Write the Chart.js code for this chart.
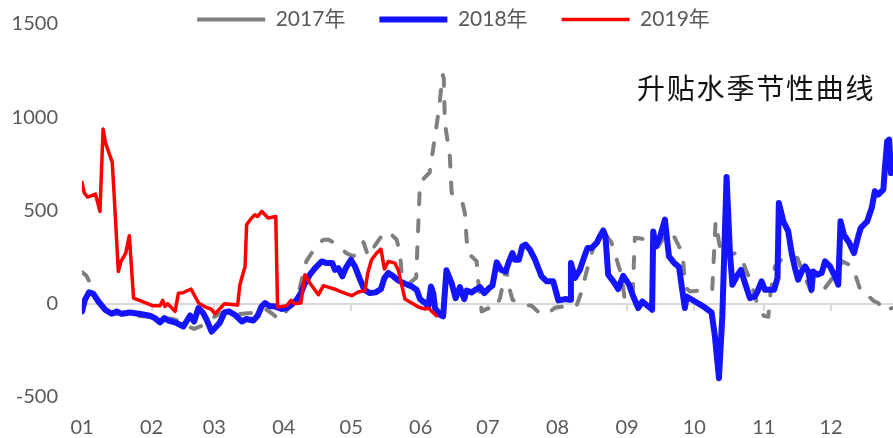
<!DOCTYPE html>
<html>
<head>
<meta charset="utf-8">
<script src="https://cdn.jsdelivr.net/npm/chart.js@4.4.1/dist/chart.umd.min.js"></script>
<style>
  html, body { margin: 0; padding: 0; background: #ffffff; }
  #wrap { position: relative; width: 893px; height: 438px; }
  #note {
    position: absolute; left: 637px; top: 73px;
    font: 28px/28px "Noto Sans CJK SC", sans-serif;
    color: #111111; letter-spacing: 1.8px; white-space: nowrap;
  }
</style>
</head>
<body>
<div id="wrap">
  <canvas id="c"></canvas>
  <div id="note">升贴水季节性曲线</div>
</div>
<script>
// Month axis: day-of-year where each month starts, and its label
const monthStarts = [0, 31, 59, 90, 120, 151, 181, 212, 243, 273, 304, 334];
const monthLabels = ['01', '02', '03', '04', '05', '06', '07', '08', '09', '10', '11', '12'];
const yTicks = [-500, 0, 500, 1000, 1500];

// 2017 basis (day of year, value)
const days2017 = [0, 2, 4, 6, 9, 12, 16, 20, 25, 30, 35, 40, 44, 47, 50, 53, 56, 59, 62, 66, 70, 75, 79, 82, 85, 88, 91, 94, 97,
  100, 102.4, 105, 107.6, 110, 112, 115, 118, 121, 124, 125.5, 127.6, 131, 134, 136.6, 140.3, 141.8, 142.5, 144, 146, 149,
  150.7, 153, 155, 157.4, 159.3, 160.8, 161.3, 161.8, 164, 164.8, 167, 169.3, 170.7, 171.5, 172.2, 176, 176.4, 178.2, 181, 184,
  186.4, 188.6, 189.3, 190.5, 192, 197, 200.5, 204, 208, 211, 215, 220.5, 222.5, 224.5, 226, 228, 230.5, 233, 236, 238.4, 240.6,
  242, 244, 245.5, 246.5, 249, 252, 255, 257, 260, 262, 264, 266.5, 268, 269, 271, 275, 279, 281, 282.5, 284, 285.5, 288,
  291, 294, 296, 298, 300, 302, 304, 306, 307, 309, 312, 316, 319, 322, 325, 328, 331, 334, 337, 339, 342, 344, 345.5, 347.5,
  350, 353, 355, 358, 361];
const vals2017 = [170, 150, 100, 40, -20, -55, -55, -60, -65, -70, -75, -80, -95, -120, -135, -120, -95, -70, -50, -45, -55, -50, -40, -30, -55, -85, -40, 0, 80,
  227, 272, 320, 343, 343, 330, 300, 270, 254, 300, 330, 254, 320, 370, 388, 343, 272, 165, 130, 110, 140,
  647, 680, 703, 897, 1058, 1229, 1210, 969, 790, 594, 575, 558, 487, 343, 272, 227, 147, -41, -25, -30,
  30, 165, 185, 84, 20, -5, -11, -50, -50, -20, -15, -11, 57, 150, 220, 300, 361, 379, 330, 236, 150,
  20, 10, 40, 354, 350, 343, 325, 307, 370, 380, 360, 300, 236, 90, 66, 70, 75, 75, 440, 330, 240, 260,
  270, 250, 180, 130, 40, -30, -65, -70, 60, 200, 240, 254, 245, 150, 66, 57, 80, 129, 180, 227, 210, 190, 129, 57,
  48, 15, 4, -41, -23];

// 2018 basis
const days2018 = [0, 1.3, 3.1, 5, 7.3, 10.3, 13.2, 15.5, 17.7, 21.4, 26, 30.3, 32.5, 34.8, 36.7, 38.5, 41.5, 45.2, 48.2, 50,
  51.9, 54, 55.6, 57.8, 59.3, 61.5, 63.5, 65.5, 68.2, 71.2, 73.4, 76.4, 78.3, 80.1, 81.6, 83.8, 86, 89, 91.2, 93.5, 95.7, 97.6,
  99.4, 101.6, 103.9, 106.9, 109.1, 111.6, 112.8, 114.3, 116.1, 117.6, 119.9, 121.7, 123.9, 125.9, 128.4, 130.9, 133.3, 134.8,
  136.6, 138.8, 141, 144, 147, 149.2, 150.7, 153, 154.4, 155.6, 156.6, 157.4, 159.6, 161, 162.5, 164.8, 166.6, 168.5, 170.4,
  171.5, 173.7, 176, 177.4, 179.4, 181.5, 183, 184.9, 186.8, 188.9, 190.4, 191.9, 193, 194.8, 196.3, 197.8, 199.7, 202, 204.9,
  207.2, 210.1, 212.4, 213.9, 215.3, 217.6, 218, 219.8, 222, 224, 225.4, 227.2, 229.5, 230.9, 232.4, 233.4, 234.6, 236.9, 239.1,
  241.3, 243.9, 245.8, 248, 249.8, 252.5, 254.2, 254.7, 255.8, 257.7, 259.9, 261.7, 264.1, 266.2, 267.4, 268.8, 269.6, 273.3,
  277, 280.7, 282.2, 284, 285.5, 287.4, 288.9, 290, 291.9, 293.8, 295.6, 297.8, 300, 301.2, 303, 304.5, 308.6, 310.1, 310.7,
  312.7, 314.9, 316.4, 317.9, 319.3, 320.9, 322.4, 323.8, 325.3, 326, 327.8, 329.8, 331.3, 333.5, 335.7, 337.2, 338.2, 339.7,
  342.1, 344.2, 346.1, 347.2, 350.1, 352.1, 353.5, 355, 357.3, 358, 359, 359.9, 360.7];
const vals2018 = [-41, 21, 61, 54, 12, -32, -54, -41, -54, -47, -55, -64, -77, -100, -77, -90, -100, -122, -63, -95,
  -23, -50, -86, -149, -130, -100, -47, -41, -59, -95, -82, -90, -64, -14, 4, -14, -14, -28, -23, -5, 21, 57,
  111, 156, 191, 227, 218, 218, 182, 191, 147, 191, 236, 200, 132, 75, 57, 61, 79, 138,
  165, 147, 125, 107, 93, 75, 25, 4, -14, 93, 57, -23, -59, -68, 179, 111, 30, 89, 25,
  71, 61, 79, 89, 57, 84, 97, 222, 182, 173, 227, 272, 236, 236, 307, 317, 290, 236, 147,
  120, 120, 18, 21, 25, 21, 218, 138, 182, 254, 299, 299, 326, 361, 393, 361, 156, 120, 79,
  150, 102, 39, -23, 12, -14, -32, 388, 307, 358, 451, 254, 218, 197, 93, -23, 39, 12,
  -14, -47, -175, -399, -68, 680, 272, 102, 147, 182, 111, 30, 39, 66, 120, 75, 75, 138, 540,
  442, 388, 272, 191, 129, 173, 200, 173, 75, 173, 156, 165, 227, 200, 147, 102, 442, 370,
  326, 272, 361, 406, 442, 513, 603, 585, 612, 728, 871, 880, 701];

// 2019 basis
const days2019 = [0, 1, 2.5, 6, 8, 9.4, 10.5, 13.5, 14.7, 16.2, 17.4, 19.5, 21.1, 23, 31.8, 34.8, 36, 37, 38.2, 41.5, 43, 45,
  48.6, 52, 55, 57.5, 59.3, 63.5, 69.4, 70.4, 72.7, 73.4, 75.6, 77.1, 78.3, 80.2, 83, 86.4, 87.2, 91.2, 93.2, 94.7, 97.6, 99.4,
  101.6, 105.4, 107.6, 113.5, 115, 120.2, 123.2, 126.2, 127.4, 129.1, 131.4, 133.3, 134.8, 136.6, 139.5, 141, 144, 150, 153,
  154.4, 158];
const vals2019 = [651, 594, 572, 588, 495, 937, 862, 758, 504, 173, 227, 272, 365, 30, -11, -11, 18, -14, 0, -41, 57, 59,
  79, 4, -18, -28, -54, 0, -7, 102, 200, 424, 460, 477, 468, 495, 460, 468, -18, -11, 18, 0, 4, 156,
  111, 48, 97, 75, 66, 43, 63, 71, 165, 236, 272, 293, 186, 227, 218, 182, 25, -18, -28,
  -23, -64];

const toPoints = (days, vals) => days.map((d, i) => ({ x: d, y: vals[i] }));

Chart.defaults.font.family = 'Lato, "Noto Sans CJK SC", sans-serif';
Chart.defaults.color = '#595959';

// Keeps the legend compact so the plot area starts right below it
const legendPlacement = {
  id: 'legendPlacement',
  afterInit(chart) {
    const lg = chart.legend;
    const fit = lg.fit;
    lg.fit = function () { fit.call(this); this.height = 24; };
  },
  afterLayout(chart) {
    const lg = chart.legend;
    lg.top = 9 - lg.options.labels.padding;
    lg.bottom = 40;
    lg.left = 7;
    lg.right = chart.width + 7;
  }
};

// Short tick marks hanging from the zero line at each month start
const zeroAxisTicks = {
  id: 'zeroAxisTicks',
  beforeDatasetsDraw(chart) {
    const { ctx, scales: { x, y } } = chart;
    const y0 = y.getPixelForValue(0);
    ctx.save();
    ctx.strokeStyle = '#d9d9d9';
    ctx.lineWidth = 2;
    x.ticks.forEach(t => {
      const px = Math.round(x.getPixelForValue(t.value));
      ctx.beginPath();
      ctx.moveTo(px, y0);
      ctx.lineTo(px, y0 + 7);
      ctx.stroke();
    });
    ctx.restore();
  }
};

new Chart(document.getElementById('c'), {
  type: 'line',
  data: {
    datasets: [
      {
        label: '2017年', data: toPoints(days2017, vals2017),
        borderColor: '#7f7f7f', borderWidth: 4, borderDash: [11, 16],
        borderCapStyle: 'round', borderJoinStyle: 'round', order: 3
      },
      {
        label: '2018年', data: toPoints(days2018, vals2018),
        borderColor: '#1414ff', borderWidth: 6,
        borderCapStyle: 'round', borderJoinStyle: 'round', order: 2
      },
      {
        label: '2019年', data: toPoints(days2019, vals2019),
        borderColor: '#ff0000', borderWidth: 3.5,
        borderCapStyle: 'round', borderJoinStyle: 'round', order: 1
      }
    ]
  },
  options: {
    responsive: true,
    maintainAspectRatio: false,
    animation: false,
    layout: { padding: 0 },
    elements: { point: { radius: 0 }, line: { tension: 0, fill: false } },
    scales: {
      x: {
        type: 'linear', min: 0, max: 361.6,
        afterBuildTicks(scale) { scale.ticks = monthStarts.map(v => ({ value: v })); },
        afterFit(scale) { scale.height = 41; },
        grid: { display: false, drawTicks: false },
        border: { display: false },
        ticks: {
          autoSkip: false, maxRotation: 0, padding: 19,
          font: { size: 20 }, color: '#595959',
          callback(v) { const i = monthStarts.indexOf(v); return i >= 0 ? monthLabels[i] : ''; }
        }
      },
      y: {
        min: -500, max: 1500,
        afterBuildTicks(scale) { scale.ticks = yTicks.map(v => ({ value: v })); },
        afterFit(scale) { scale.width = 82; scale.paddingTop = 12; scale.paddingBottom = 12; },
        grid: {
          drawTicks: false,
          color: c => (c.tick && c.tick.value === 0 ? '#d9d9d9' : 'rgba(0,0,0,0)'),
          lineWidth: 2
        },
        border: { display: false },
        ticks: { padding: 24, font: { size: 20 }, color: '#595959', callback: v => String(v) }
      }
    },
    plugins: {
      legend: {
        position: 'top',
        labels: {
          usePointStyle: true, pointStyle: 'line', pointStyleWidth: 68,
          padding: 34, font: { size: 21 }, color: '#595959',
          sort: (a, b) => a.datasetIndex - b.datasetIndex
        }
      },
      tooltip: { enabled: false }
    }
  },
  plugins: [legendPlacement, zeroAxisTicks]
});
</script>
</body>
</html>
